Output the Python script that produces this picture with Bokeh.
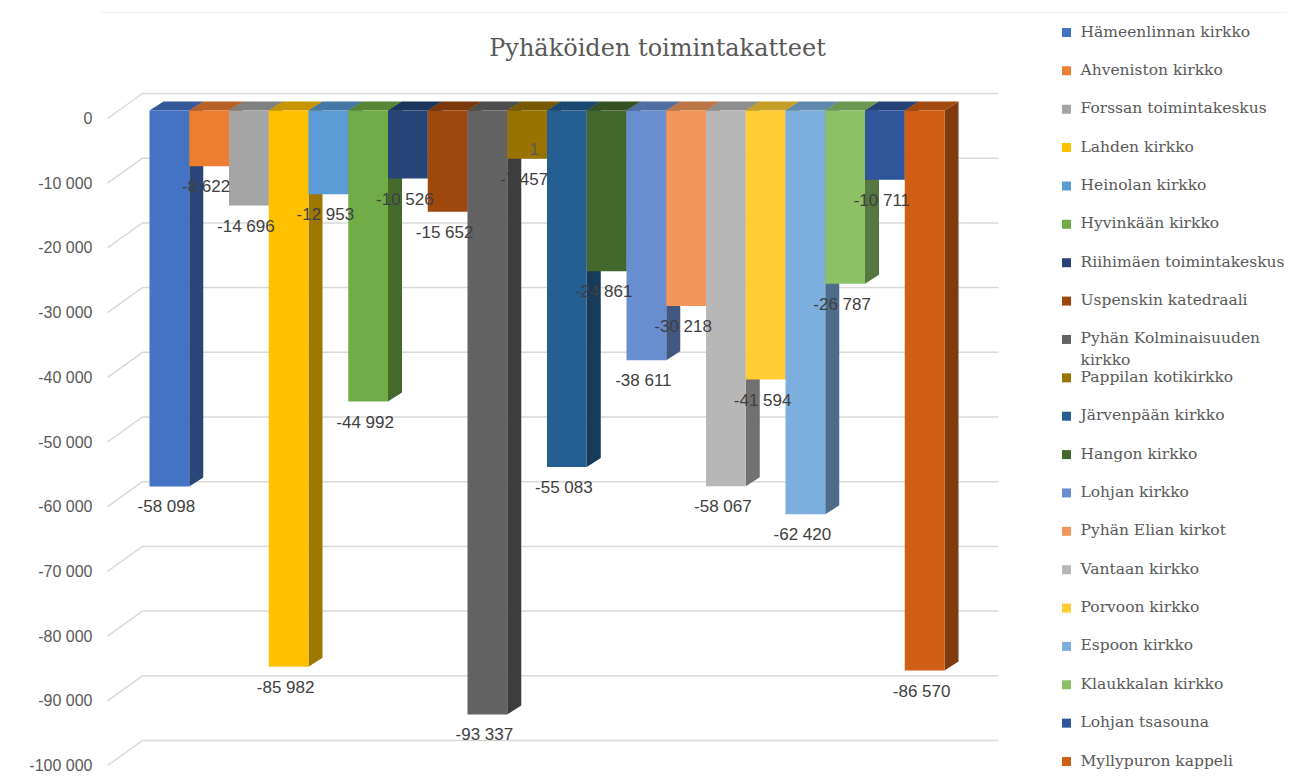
from bokeh.plotting import figure
from bokeh.models import Range1d, LinearAxis, FixedTicker, Label, ColumnDataSource, BoxAnnotation
from bokeh.embed import file_html
from bokeh.resources import INLINE
from bokeh.core.properties import value

# ---------------- data ----------------
title_text = "Pyhäköiden toimintakatteet"
names = [
    "Hämeenlinnan kirkko", "Ahveniston kirkko", "Forssan toimintakeskus",
    "Lahden kirkko", "Heinolan kirkko", "Hyvinkään kirkko",
    "Riihimäen toimintakeskus", "Uspenskin katedraali",
    "Pyhän Kolminaisuuden\nkirkko", "Pappilan kotikirkko", "Järvenpään kirkko",
    "Hangon kirkko", "Lohjan kirkko", "Pyhän Elian kirkot", "Vantaan kirkko",
    "Porvoon kirkko", "Espoon kirkko", "Klaukkalan kirkko", "Lohjan tsasouna",
    "Myllypuron kappeli",
]
values = [-58098, -8622, -14696, -85982, -12953, -44992, -10526, -15652,
          -93337, -7457, -55083, -24861, -38611, -30218, -58067, -41594,
          -62420, -26787, -10711, -86570]
colors = ["#4472C4", "#ED7D31", "#A5A5A5", "#FFC000", "#5B9BD5", "#70AD47",
          "#264478", "#9E480E", "#636363", "#997300", "#255E91", "#43682B",
          "#698ED0", "#F1975A", "#B7B7B7", "#FFCD33", "#7CAFDD", "#8CC168",
          "#2F559B", "#D05E14"]
ticks = list(range(0, -100001, -10000))
stray_text = "1"   # stray character visible inside the Pappilan bar


def fmt(v):
    return f"{v:,}".replace(",", " ")


def shade(h, f):
    h = h.lstrip("#")
    r, g, b = (int(h[i:i + 2], 16) for i in (0, 2, 4))
    return "#%02x%02x%02x" % (int(r * f), int(g * f), int(b * f))


# ---------------- geometry (layout constants, canvas px) ----------------
W, H = 1287, 775
LEFT = 100                 # frame left in canvas px
KY = 64.7 / 10000          # px per value unit
SLOT = 39.75               # px per bar slot
BAR0_X = 149               # canvas x of first bar's front-left
FRONT0_Y = 110             # canvas y of value 0 on bar front plane


def xd(cx):
    return (cx - BAR0_X) / SLOT


def yd(cy):
    return (FRONT0_Y - cy) / KY


x_start, x_end = xd(LEFT), xd(W)
y_top, y_bot = yd(0), yd(H)

BAR_DX = 14 / SLOT
BAR_DY = 9 / KY
WALL_FRONT_X, WALL_FRONT_DY = xd(107), -8 / KY
WALL_BACK_X, WALL_BACK_DY = xd(142), 17 / KY
WALL_RIGHT_X = xd(998)

p = figure(width=W, height=H, output_backend="svg", toolbar_location=None,
           x_range=Range1d(x_start, x_end), y_range=Range1d(y_bot, y_top),
           x_axis_type=None, y_axis_type=None,
           min_border_left=LEFT, min_border_right=0, min_border_top=0,
           min_border_bottom=0, outline_line_color=None,
           background_fill_color="white", border_fill_color="white")

# chart border
p.add_layout(BoxAnnotation(left=9, right=W + 20, top=12, bottom=H + 20,
                           left_units="canvas", right_units="canvas",
                           top_units="canvas", bottom_units="canvas",
                           fill_color=None, fill_alpha=0, line_color="#d9d9d9",
                           line_width=1.5, level="underlay"))

# y axis placed at the front edge of the side wall
p.extra_y_ranges = {"front": Range1d(y_bot - WALL_FRONT_DY, y_top - WALL_FRONT_DY)}
ax = LinearAxis(y_range_name="front", ticker=FixedTicker(ticks=ticks))
ax.major_label_overrides = {t: fmt(t) for t in ticks}
ax.axis_line_color = None
ax.major_tick_line_color = None
ax.minor_tick_line_color = None
ax.major_tick_out = 0
ax.major_tick_in = 0
ax.major_label_standoff = 8
ax.major_label_text_font = "Liberation Sans"
ax.major_label_text_font_size = "16px"
ax.major_label_text_color = "#595959"
p.add_layout(ax, "left")

# 3D gridlines (side wall diagonal + back wall)
gx, gy = [], []
for t in ticks:
    gx.append([WALL_FRONT_X, WALL_BACK_X, WALL_RIGHT_X])
    gy.append([t + WALL_FRONT_DY, t + WALL_BACK_DY, t + WALL_BACK_DY])
p.multi_line(gx, gy, line_color="#d9d9d9", line_width=1.5)

# bars: side faces, top faces, front faces
n = len(values)
idx = list(range(n))
side_xs, side_ys, top_xs, top_ys = [], [], [], []
for i, v in zip(idx, values):
    side_xs.append([i + 1, i + 1 + BAR_DX, i + 1 + BAR_DX, i + 1])
    side_ys.append([0, BAR_DY, v + BAR_DY, v])
    top_xs.append([i, i + BAR_DX, i + 1 + BAR_DX, i + 1])
    top_ys.append([0, BAR_DY, BAR_DY, 0])
p.patches(side_xs, side_ys, fill_color=[shade(c, 0.62) for c in colors], line_color=None)
p.patches(top_xs, top_ys, fill_color=[shade(c, 0.78) for c in colors], line_color=None)

src = ColumnDataSource(dict(left=idx, right=[i + 1 for i in idx], top=[0] * n,
                            bottom=values, color=colors, name=names,
                            xc=[i + 0.5 for i in idx], lbl=[fmt(v) for v in values]))
p.quad(left="left", right="right", top="top", bottom="bottom", fill_color="color",
       line_color=None, source=src)

# data labels
p.text(x="xc", y="bottom", text="lbl", source=src, text_align="center",
       text_baseline="top", y_offset=11, x_offset=-3,
       text_font=value("Liberation Sans"), text_font_size="17px", text_color="#404040")

# stray "1" seen inside the Pappilan kotikirkko bar
pap = names.index("Pappilan kotikirkko")
p.text(x=[pap + 0.68], y=[values[pap] * 0.79], text=[stray_text], text_align="center",
       text_baseline="middle", text_font=value("Liberation Sans"),
       text_font_size="17px", text_color="#595959")

# legend (drawn manually to keep the two-line entry within the row pitch)
leg_y = [yd(32 + 38.37 * j) for j in idx]
p.rect(x=[xd(1066)] * n, y=leg_y, width=9, height=9, width_units="screen",
       height_units="screen", fill_color=colors, line_color=None)
p.text(x=[xd(1080)] * n, y=leg_y, text=names, text_align="left",
       text_baseline="top", y_offset=-10, text_line_height=1.2,
       text_font=value("DejaVu Serif"), text_font_size="15.5px", text_color="#595959")

# title
p.add_layout(Label(x=xd(657), y=yd(47), text=title_text, text_align="center",
                   text_baseline="middle", text_font="DejaVu Serif",
                   text_font_size="24px", text_color="#595959"))

open("out.html", "w").write(file_html(p, INLINE))
